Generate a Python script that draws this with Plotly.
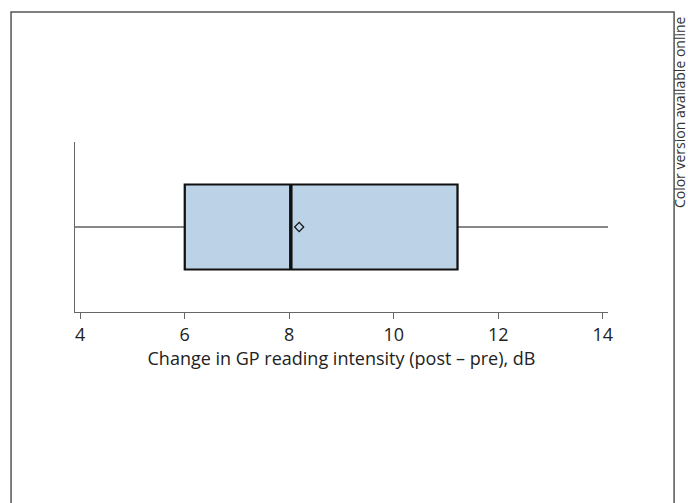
import plotly.graph_objects as go

# Data
group = [0]
q1 = [6.0]
median = [8.03]
q3 = [11.22]
lower_whisker = [3.9]
upper_whisker = [14.1]
mean = [8.19]
tick_vals = [4, 6, 8, 10, 12, 14]
x_title = "Change in GP reading intensity (post – pre), dB"
side_note = "Color version available online"

FONT = "Open Sans"
BOX_HALF = 0.25

fig = go.Figure()

# whiskers + box fill via box trace (thin lines)
fig.add_trace(go.Box(
    y=group, q1=q1, median=median, q3=q3,
    lowerfence=lower_whisker, upperfence=upper_whisker,
    orientation="h", width=2 * BOX_HALF, whiskerwidth=0,
    fillcolor="#BCD2E6", line=dict(color="#111111", width=1.2),
    boxpoints=False, showlegend=False, hoverinfo="skip",
))

shapes = []
for i, g in enumerate(group):
    shapes.append(dict(type="rect", xref="x", yref="y",
                       x0=q1[i], x1=q3[i], y0=g - BOX_HALF, y1=g + BOX_HALF,
                       line=dict(color="#111111", width=2.2), fillcolor="rgba(0,0,0,0)"))
    shapes.append(dict(type="line", xref="x", yref="y",
                       x0=median[i], x1=median[i], y0=g - BOX_HALF, y1=g + BOX_HALF,
                       line=dict(color="#111111", width=3.5)))

# mean marker
fig.add_trace(go.Scatter(
    x=mean, y=group, mode="markers",
    marker=dict(symbol="diamond-open", size=7, color="#111111", line=dict(width=1.2)),
    showlegend=False, hoverinfo="skip",
))

# outer frame (page border)
shapes.append(dict(type="rect", xref="paper", yref="paper",
                   x0=-0.12, x1=1.124, y0=-2.0, y1=1.765,
                   line=dict(color="#555555", width=1.5), fillcolor="rgba(0,0,0,0)", layer="below"))

fig.update_layout(
    width=688, height=503,
    margin=dict(l=75, r=80, t=142, b=191),
    paper_bgcolor="white", plot_bgcolor="white",
    shapes=shapes,
    font=dict(family=FONT, color="#222222"),
    xaxis=dict(range=[lower_whisker[0], upper_whisker[0]], tickvals=tick_vals,
               ticks="outside", ticklen=6, tickcolor="#666666", tickwidth=1,
               showline=True, linecolor="#666666", linewidth=1.2,
               showgrid=False, zeroline=False,
               tickfont=dict(size=18, family=FONT, color="#222222"),
               title=dict(text=x_title, font=dict(size=18, family=FONT, color="#222222"), standoff=4)),
    yaxis=dict(range=[-0.5, 0.5], showline=True, linecolor="#666666", linewidth=1.2,
               showticklabels=False, ticks="", showgrid=False, zeroline=False),
    annotations=[dict(text=side_note, xref="paper", yref="paper",
                      x=1.1332, y=1.176, textangle=-90, showarrow=False,
                      xanchor="center", yanchor="middle", borderpad=0,
                      font=dict(size=14, family=FONT, color="#333333"))],
)

fig.write_html("out.html", config={"displayModeBar": False},
               post_script="document.body.style.margin='0';document.body.style.overflow='hidden';")
